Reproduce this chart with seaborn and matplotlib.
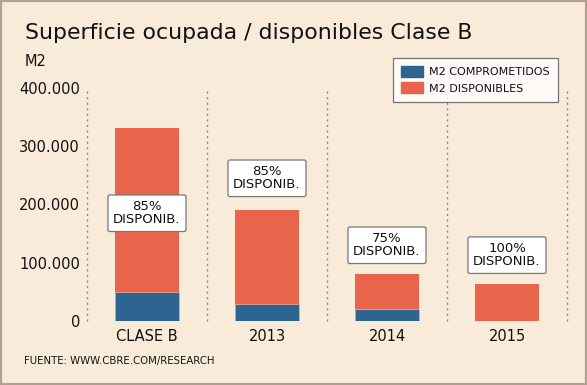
import matplotlib.pyplot as plt
import matplotlib.patches as mpatches
import numpy as np
import pandas as pd
import seaborn as sns

categorias = ["CLASE B", "2013", "2014", "2015"]
comprometidos = [50000, 30000, 21000, 0]
disponibles = [282000, 160000, 59000, 64000]
etiquetas = ["85%\nDISPONIB.", "85%\nDISPONIB.", "75%\nDISPONIB.", "100%\nDISPONIB."]
yticks = [0, 100000, 200000, 300000, 400000]

BG = "#F9EBD9"
AZUL = "#2E6490"
NARANJA = "#E8644A"
TXT = "#111111"

sns.set_theme(style="white")
plt.rcParams["font.family"] = ["DejaVu Sans"]
plt.rcParams["text.color"] = TXT

totales = [c + d for c, d in zip(comprometidos, disponibles)]
df = pd.DataFrame({"cat": categorias, "total": totales, "comp": comprometidos})

fig = plt.figure(figsize=(5.87, 3.85), dpi=100, facecolor=BG)
ax = fig.add_axes([87 / 587, 64 / 385, 480 / 587, 233 / 385])
ax.set_facecolor(BG)

sns.barplot(data=df, x="cat", y="total", color=NARANJA, width=0.54,
            saturation=1, ax=ax, linewidth=0)
sns.barplot(data=df, x="cat", y="comp", color=AZUL, width=0.54,
            saturation=1, ax=ax, edgecolor="#F2B3A0", linewidth=0.5)

ax.set_xlim(-0.5, 3.5)
ax.set_ylim(0, 400000)
for x in np.arange(-0.5, 4, 1):
    ax.plot([x, x], [0, 400000], color="#8A8A8A", lw=1.0,
            ls=(0, (1.5, 2.5)), clip_on=False, zorder=0)

for s in ax.spines.values():
    s.set_visible(False)
ax.set_yticks(yticks)
ax.set_yticklabels([f"{v:,}".replace(",", ".") for v in yticks], fontsize=10.5,
                   color=TXT)
ax.tick_params(axis="y", length=0, pad=5)
ax.tick_params(axis="x", length=0, pad=6, labelsize=10.5, labelcolor=TXT)
ax.set_xlabel("")
ax.set_ylabel("")

# posiciones de las cajas de texto
label_y = [185000, 245000, 130000, 113000]
for i, (txt, y) in enumerate(zip(etiquetas, label_y)):
    ax.text(i, y, txt, ha="center", va="center", fontsize=9.5, linespacing=1.0,
            color=TXT,
            bbox=dict(boxstyle="round,pad=0.4,rounding_size=0.15",
                      fc="white", ec="#777777", lw=0.9), zorder=5)

fig.text(25 / 587, 1 - 33 / 385, "Superficie ocupada / disponibles Clase B",
         fontsize=15.8, va="center", ha="left", color=TXT)
fig.text(25 / 587, 1 - 62 / 385, "M2", fontsize=10.5, va="center", ha="left",
         color=TXT)
fig.text(24 / 587, 1 - 361 / 385, "FUENTE: WWW.CBRE.COM/RESEARCH",
         fontsize=7.3, va="center", ha="left", color=TXT)

handles = [mpatches.Patch(color=AZUL, label="M2 COMPROMETIDOS"),
           mpatches.Patch(color=NARANJA, label="M2 DISPONIBLES")]
leg = fig.legend(handles=handles, loc="upper right",
                 bbox_to_anchor=(558 / 587, 1 - 58 / 385), fontsize=8,
                 frameon=True, fancybox=False, handlelength=2.0,
                 handleheight=1.1, handletextpad=0.5, borderpad=0.75,
                 labelspacing=0.45, borderaxespad=0)
leg.get_frame().set_facecolor("white")
leg.get_frame().set_edgecolor("#555555")
leg.get_frame().set_linewidth(0.9)
for t in leg.get_texts():
    t.set_color(TXT)

fig.patches.append(mpatches.Rectangle((0, 0), 1, 1, transform=fig.transFigure,
                                      fill=False, ec="#B3A093", lw=3))

fig.savefig("out.png", dpi=100, facecolor=BG)
